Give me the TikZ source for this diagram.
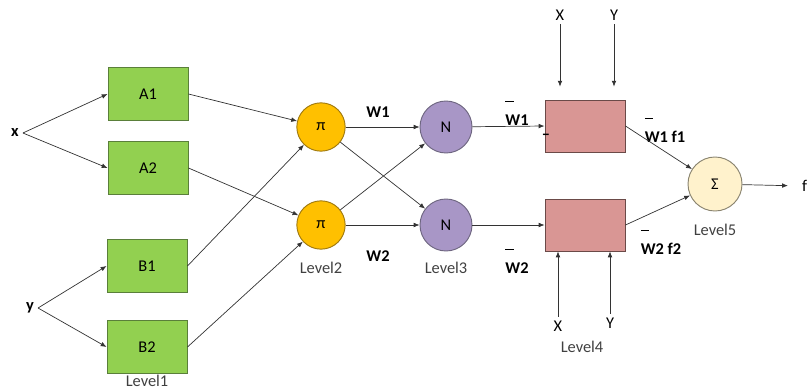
\documentclass[tikz,border=0pt]{standalone}
\usepackage{fontspec}
\setmainfont{Carlito}
\usepackage{xcolor}
\usepackage{tikz}
\usetikzlibrary{positioning,arrows.meta}
\definecolor{lvfill}{HTML}{92D050}
\definecolor{lvstroke}{HTML}{5A7F3A}
\definecolor{pifill}{HTML}{FFC000}
\definecolor{pistroke}{HTML}{A07A10}
\definecolor{nfill}{HTML}{A896C6}
\definecolor{nstroke}{HTML}{6E6680}
\definecolor{rfill}{HTML}{D99694}
\definecolor{rstroke}{HTML}{6B4A48}
\definecolor{sfill}{HTML}{FFF2CC}
\definecolor{sstroke}{HTML}{8A8470}
\definecolor{lvtext}{HTML}{404040}
\newcommand\barmark{\rlap{\raisebox{1.4em}{\rule{0.5em}{1.5pt}}}}
\tikzset{
  memb/.style={rectangle, fill=lvfill, draw=lvstroke, line width=0.8pt,
               minimum width=2.4cm, minimum height=1.6cm, inner sep=0pt},
  prodnode/.style={circle, fill=pifill, draw=pistroke, line width=0.8pt,
                   minimum size=1.45cm, inner sep=0pt},
  normnode/.style={circle, fill=nfill, draw=nstroke, line width=0.8pt,
                   minimum size=1.56cm, inner sep=0pt},
  rulebox/.style={rectangle, fill=rfill, draw=rstroke, line width=0.8pt,
                  minimum width=2.4cm, minimum height=1.56cm, inner sep=0pt},
  sumnode/.style={circle, fill=sfill, draw=sstroke, line width=0.8pt,
                  minimum size=1.62cm, inner sep=0pt},
  levellabel/.style={text=lvtext},
  wlabel/.style={font=\fontsize{14}{16}\selectfont\bfseries},
  flow/.style={-{Latex[length=5pt,width=4pt]}, line width=0.6pt, draw=black!80}
}

\begin{document}
\begin{tikzpicture}[x=0.03cm, y=-0.03cm, font=\fontsize{14}{16}\selectfont]
  \useasboundingbox (0,0) rectangle (807,392);

  % ===== Inputs =====
  \node[wlabel] (xin) at (15,133) {x};
  \node[wlabel] (yin) at (30,308) {y};

  % ===== Level1: membership boxes =====
  \node[memb] (A1) at (148,94)  {A1};
  \node[memb] (A2) at (148,168) {A2};
  \node[memb] (B1) at (147,266) {B1};
  \node[memb] (B2) at (147,347) {B2};
  \node[levellabel] (lv1) at (147,381) {Level1};

  \draw[flow] (xin.east) -- (A1.west);
  \draw[flow] (xin.east) -- (A2.west);
  \draw[flow] (yin.east) -- (B1.west);
  \draw[flow] (yin.east) -- (B2.west);

  % ===== Level2: product nodes =====
  \node[prodnode] (piT) at (321,127) {π};
  \node[prodnode] (piB) at (321,225) {π};
  \node[levellabel] (lv2) at (321,268) {Level2};

  \draw[flow] (A1.east) -- (piT);
  \draw[flow] (B1.east) -- (piT);
  \draw[flow] (A2.east) -- (piB);
  \draw[flow] (B2.east) -- (piB);

  % ===== Level3: normalisation nodes =====
  \node[normnode] (nT) at (446,127) {N};
  \node[normnode] (nB) at (446,225) {N};
  \node[levellabel] (lv3) at (446,268) {Level3};
  \node[wlabel] (w1) at (378,112) {W1};
  \node[wlabel] (w2) at (378,256) {W2};

  \draw[flow] (piT) -- (nT);
  \draw[flow] (piT) -- (nB);
  \draw[flow] (piB) -- (nT);
  \draw[flow] (piB) -- (nB);

  % ===== Level4: consequent boxes =====
  \node[rulebox] (rT) at (585,126) {};
  \node[rulebox] (rB) at (585,225) {};
  \node[levellabel] (lv4) at (582,347) {Level4};
  \node[wlabel] (wn1) at (517,113) {\barmark W1};
  \node[wlabel] (wn2) at (517,261) {\barmark W2};
  \node[wlabel, inner sep=0pt] (stray) at (546,137) {--};

  \draw[flow] (nT) -- (rT.west);
  \draw[flow] (nB) -- (rB.west);

  % X, Y into the rule boxes
  \node (xT) at (560,15) {X};
  \node (yT) at (614,15) {Y};
  \node (xB) at (558,326) {X};
  \node (yB) at (610,323) {Y};
  \draw[flow, shorten >=11pt] (xT.south) -- (xT.south |- rT.north);
  \draw[flow, shorten >=11pt] (yT.south) -- (yT.south |- rT.north);
  \draw[flow] (xB.north) -- (xB.north |- rB.south);
  \draw[flow] (yB.north) -- (yB.north |- rB.south);

  % ===== Level5: sum node =====
  \node[sumnode] (sum) at (715,184) {Σ};
  \node[levellabel] (lv5) at (715,230) {Level5};
  \node[wlabel] (wf1) at (665,130) {\barmark W1 f1};
  \node[wlabel] (wf2) at (661,242) {\barmark W2 f2};
  \node[anchor=west, inner sep=0pt] (fout) at (802,186) {f};

  \draw[flow] (rT.east) -- (sum);
  \draw[flow] (rB.east) -- (sum);
  \draw[flow, shorten >=12pt] (sum) -- (fout.west);

\end{tikzpicture}
\end{document}
